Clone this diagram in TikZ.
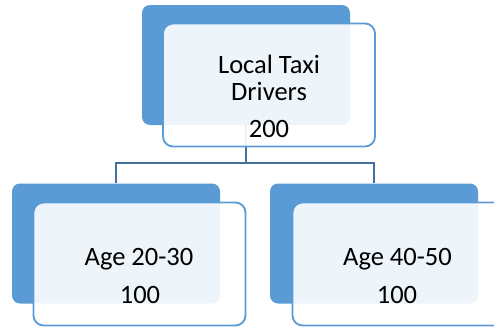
\documentclass[tikz,border=0pt]{standalone}
\usepackage{fontspec}
\setmainfont{Carlito}
\usetikzlibrary{positioning}
\definecolor{accent}{HTML}{5B9BD5}
\definecolor{accentdark}{HTML}{41719C}
\tikzset{
  backbox/.style={fill=accent, rounded corners=8pt, minimum width=208pt, minimum height=120pt, inner sep=0pt},
  frontbox/.style={fill=white, fill opacity=0.9, draw=accent, line width=1.8pt, rounded corners=10pt,
    minimum width=212pt, minimum height=123pt, inner sep=0pt},
  caption/.style={anchor=base, align=center, font=\fontsize{26.5}{27}\selectfont, inner sep=0pt},
  link/.style={draw=accentdark, line width=2.2pt}
}
\begin{document}
\begin{tikzpicture}[x=1pt, y=-1pt]
				\useasboundingbox (0,0) rectangle (494,327);
				\clip (0,0) rectangle (494,327);
				% Back panels
				\node[backbox] (top-back) at (246,65) {};
				\node[backbox] (left-back) at (116,243.5) {};
				\node[backbox] (right-back) at (374,243.5) {};
				% Connectors
				\coordinate (bus) at (0,163);
				\draw[link] (top-back.south) -- (top-back.south |- bus) -| (left-back.north);
				\draw[link] (top-back.south |- bus) -| (right-back.north);
				% Front panels
				\node[frontbox] (top-front) at (269,85) {};
				\node[frontbox] (left-front) at (139.5,264) {};
				\node[frontbox] (right-front) at (398.5,264) {};
				% Texts
				\node[caption] (top-name) at (269,100) {Local Taxi\\Drivers};
				\node[caption] (top-count) at (269,137) {200};
				\node[caption] (left-name) at (139,265) {Age 20-30};
				\node[caption] (left-count) at (140,303) {100};
				\node[caption] (right-name) at (397.5,265) {Age 40-50};
				\node[caption] (right-count) at (397,303) {100};
\end{tikzpicture}
\end{document}
